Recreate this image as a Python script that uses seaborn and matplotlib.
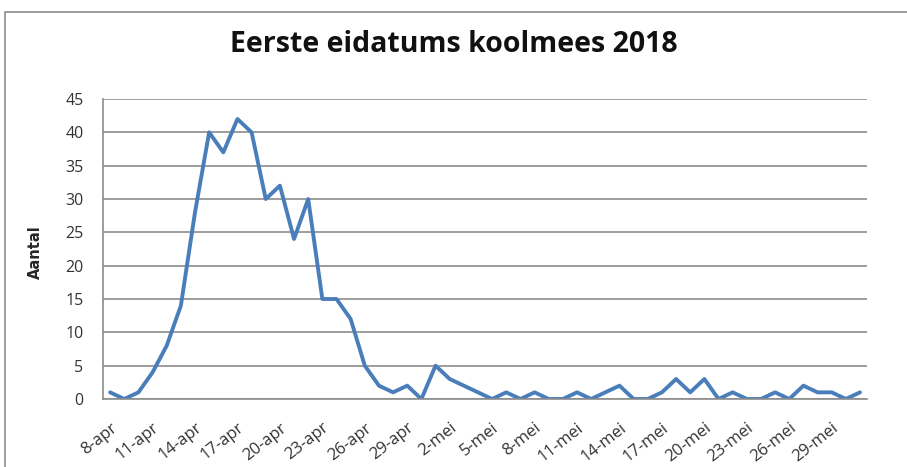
import matplotlib
matplotlib.use("Agg")
import matplotlib.pyplot as plt
import pandas as pd
import seaborn as sns
from matplotlib.patches import Rectangle

# daily counts, 8 april .. 31 mei 2018
april_days = list(range(8, 31))
mei_days = list(range(1, 32))
dates = [f"{d}-apr" for d in april_days] + [f"{d}-mei" for d in mei_days]
aantal = [1, 0, 1, 4, 8, 14, 28, 40, 37, 42, 40, 30, 32, 24, 30, 15, 15, 12,
          5, 2, 1, 2, 0,
          5, 3, 2, 1, 0, 1, 0, 1, 0, 0, 1, 0, 1, 2, 0, 0, 1, 3, 1, 3, 0, 1,
          0, 0, 1, 0, 2, 1, 1, 0, 1]
y_ticks = list(range(0, 50, 5))

df = pd.DataFrame({"datum": dates, "aantal": aantal})

sns.set_theme(style="white")
plt.rcParams["font.family"] = ["Open Sans", "DejaVu Sans"]

fig = plt.figure(figsize=(9.07, 4.67), dpi=100)
ax = fig.add_axes([0.1136, 0.1456, 0.8424, 0.6424])

sns.lineplot(data=df, x="datum", y="aantal", ax=ax, sort=False,
             color="#4a7ebb", linewidth=2.8)

ax.set_xlim(-0.5, len(dates) - 0.5)
ax.set_ylim(0, 45)
ax.set_yticks(y_ticks)
ax.set_yticklabels([str(t) for t in y_ticks], fontsize=11.5, color="#333333")
pos = list(range(0, len(dates), 3))
ax.set_xticks(pos)
ax.set_xticklabels([dates[p] for p in pos], rotation=38, ha="right",
                   rotation_mode="anchor", fontsize=12, color="#333333")
ax.tick_params(axis="both", length=0)
ax.tick_params(axis="y", pad=14)
ax.tick_params(axis="x", pad=15)

ax.grid(axis="y", color="#8c8c8c", linewidth=1.2)
ax.set_axisbelow(True)
for side in ["top", "right"]:
    ax.spines[side].set_visible(False)
ax.spines["left"].set_color("#8c8c8c")
ax.spines["bottom"].set_color("#8c8c8c")
ax.spines["left"].set_linewidth(1.2)
ax.spines["bottom"].set_linewidth(1.2)

ax.set_xlabel("")
ax.set_ylabel("Aantal", fontsize=10.5, fontweight="bold",
              family=["Liberation Sans Narrow", "DejaVu Sans"])
ax.yaxis.set_label_coords(-0.079, 0.49)

fig.text(0.5, 0.904, "Eerste eidatums koolmees 2018", ha="center",
         va="center", fontsize=20.5, fontweight="bold", color="#111111")

fig.patches.append(Rectangle((5 / 907, -0.1), 1.1, 1 - 12 / 467 + 0.1,
                             transform=fig.transFigure, fill=False,
                             edgecolor="#8c8c8c", linewidth=1.2))

fig.savefig("out.png", dpi=100)
